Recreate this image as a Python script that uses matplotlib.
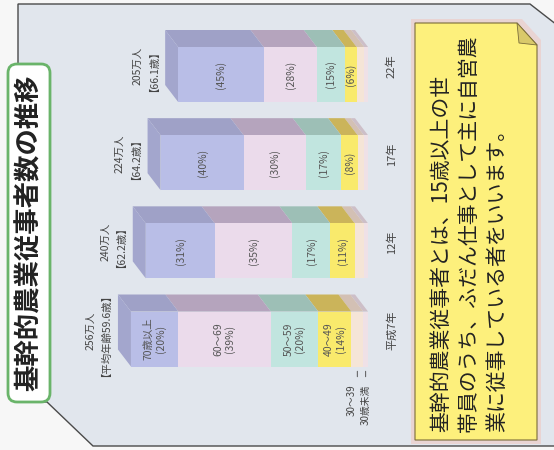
import numpy as np
import matplotlib.pyplot as plt
from matplotlib.patches import Polygon, FancyBboxPatch

plt.rcParams['font.family'] = ['Noto Sans CJK JP', 'DejaVu Sans']

# data (percent of each age group, from baseline outwards)
years = ['平成7年', '12年', '17年', '22年']
totals = [256, 240, 224, 205]
ages = ['【平均年齢59.6歳】', '【62.2歳】', '【64.2歳】', '【66.1歳】']
groups = ['30歳未満', '30～39', '40～49', '50～59', '60～69', '70歳以上']
pct_under30 = [2, 2, 2, 2]
pct_30s = [5, 4, 3, 4]
pct_40s = [14, 11, 8, 6]
pct_50s = [20, 17, 17, 15]
pct_60s = [39, 35, 30, 28]
pct_70s = [20, 31, 40, 45]

front_cols = ['#efe1e7', '#f5e5d7', '#f9ea6c', '#c1e5df', '#ebdbeb', '#b9bee7']
top_cols = ['#cdbfc8', '#d3c0b4', '#cbb45a', '#9dbfb6', '#b5a4bd', '#9fa1c7']
end_col = '#a3a6cd'
txt_col = '#555555'

fig = plt.figure(figsize=(5.54, 4.5), dpi=100)
fig.patch.set_facecolor('#f7f7f7')

# background decorations in pixel space
bg = fig.add_axes([0, 0, 1, 1])
bg.set_xlim(0, 554)
bg.set_ylim(450, 0)
bg.axis('off')
panel = Polygon([(18, 4), (530, 4), (566, 32), (566, 446), (93, 446), (47, 402), (18, 402)],
                closed=True, facecolor='#e1e6ed', edgecolor='#4a4a4a', lw=1.0)
bg.add_patch(panel)

# title box
bg.add_patch(FancyBboxPatch((8, 64), 42, 338, boxstyle='round,pad=0,rounding_size=9',
                            facecolor='white', edgecolor='#6ab46a', lw=2))
bg.text(29, 233, '基幹的農業従事者数の推移', rotation=90, ha='center', va='center',
        fontsize=19, fontweight='bold', color='#222222')

# note box with shadow and folded corner
bg.add_patch(Polygon([(411, 19), (522, 19), (541, 40), (541, 444), (411, 444)],
                     closed=True, facecolor='#efc8c2', edgecolor='none', alpha=0.6))
bg.add_patch(Polygon([(415, 23), (517, 23), (537, 45), (537, 440), (415, 440)],
                     closed=True, facecolor='#fdf07c', edgecolor='#7a6c3a', lw=0.8))
bg.add_patch(Polygon([(517, 23), (519, 43), (537, 45)], closed=True,
                     facecolor='#d9c96a', edgecolor='#7a6c3a', lw=0.6))
note = ['基幹的農業従事者とは、15歳以上の世',
        '帯員のうち、ふだん仕事として主に自営農',
        '業に従事している者をいいます。']
for i, line in enumerate(note):
    bg.text(441 + i * 28, 432, line, rotation=90, rotation_mode='anchor',
            ha='left', va='center', fontsize=15, color='#222222')

# bar chart axes: value axis runs right-to-left, baseline at the right
px_per_val = 0.926
px_per_cat = 88.17
ax = fig.add_axes([100 / 554, 0, 268 / 554, 1])
ax.set_xlim(268 / px_per_val, 0)
ax.set_ylim(-111 / px_per_cat, 3 + 74.5 / px_per_cat)
ax.axis('off')

h = 55 / px_per_cat
dx = 13 / px_per_val
dy = 17 / px_per_cat
ypos = np.arange(len(years))
pcts = np.array([pct_under30, pct_30s, pct_40s, pct_50s, pct_60s, pct_70s], dtype=float)

for j, y in enumerate(ypos):
    vals = pcts[:, j] / 100 * totals[j]
    lefts = np.concatenate([[0], np.cumsum(vals)[:-1]])
    yt = y + h / 2
    yb = y - h / 2
    # top (depth) faces
    for k in range(len(vals)):
        a, b = lefts[k], lefts[k] + vals[k]
        ax.add_patch(Polygon([(a, yt), (b, yt), (b + dx, yt + dy), (a + dx, yt + dy)],
                             closed=True, facecolor=top_cols[k], edgecolor='none', zorder=1))
    # end face
    T = totals[j]
    ax.add_patch(Polygon([(T, yt), (T, yb), (T + dx, yb + dy), (T + dx, yt + dy)],
                         closed=True, facecolor=end_col, edgecolor='none', zorder=1))
    # front faces
    ax.barh(y, vals, left=lefts, height=h, color=front_cols, edgecolor='none', zorder=2)

    # segment labels
    for k in range(2, len(vals)):
        cx = lefts[k] + vals[k] / 2
        if j == 0:
            lab = f'{groups[k]}\n({pcts[k, j]:.0f}%)'
        else:
            lab = f'({pcts[k, j]:.0f}%)'
        ax.text(cx, y, lab, rotation=90, ha='center', va='center', fontsize=7.5,
                color=txt_col, linespacing=1.1, zorder=3)

    # total labels
    ax.annotate(f'{totals[j]}万人\n{ages[j]}', xy=(T + dx, y + dy / 2), xytext=(-16, 0),
                textcoords='offset points', rotation=90, ha='center', va='center',
                fontsize=7.5, color='#444444', linespacing=1.15, multialignment='center')

    # year labels
    ax.annotate(years[j], xy=(0, y + dy / 2), xytext=(17, 0), textcoords='offset points',
                rotation=90, ha='center', va='center', fontsize=8, color='#444444')

# small groups of the first year labelled outside the bar
vals0 = pcts[:, 0] / 100 * totals[0]
lefts0 = np.concatenate([[0], np.cumsum(vals0)[:-1]])
yb0 = ypos[0] - h / 2
for k, off in [(1, -4), (0, 0)]:
    cx = lefts0[k] + vals0[k] / 2
    ax.annotate('', xy=(cx, yb0 - 2 / px_per_cat), xytext=(cx, yb0 - 13 / px_per_cat),
                arrowprops=dict(arrowstyle='-', color='#555555', lw=0.7))
    ax.annotate(groups[k], xy=(cx, yb0), xytext=(off, -13), textcoords='offset points',
                rotation=90, rotation_mode='anchor', ha='right', va='center',
                fontsize=7, color='#444444')

fig.savefig('out.png', dpi=100, facecolor=fig.get_facecolor())
